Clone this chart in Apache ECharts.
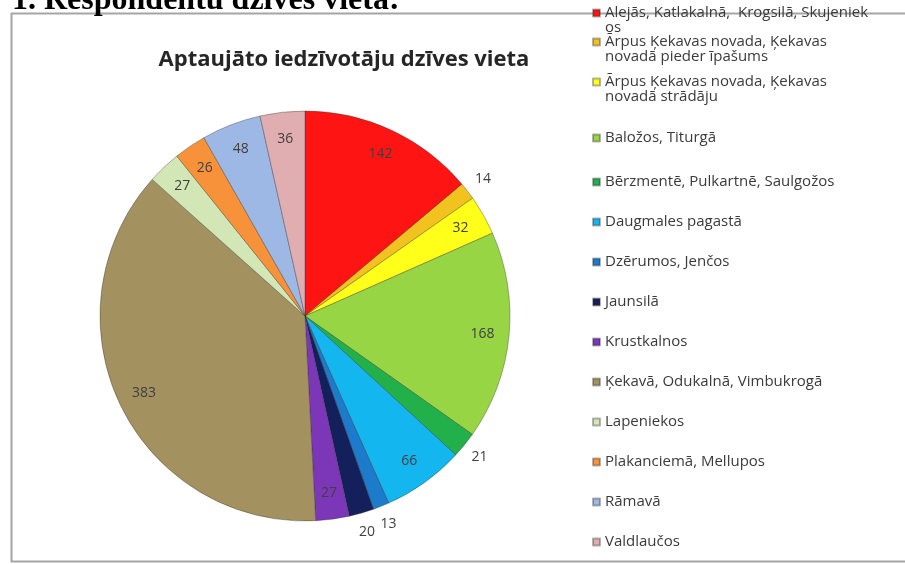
<!DOCTYPE html>
<html>
<head>
<meta charset="utf-8">
<script src="https://cdn.jsdelivr.net/npm/echarts@6/dist/echarts.min.js"></script>
<style>
  html, body { margin: 0; padding: 0; background: #fff; }
  #chart { width: 905px; height: 564px; }
</style>
</head>
<body>
<div id="chart"></div>
<script>
// dzīves vietas (kategorijas) un respondentu skaits
var categories = [
  'Alejās, Katlakalnā,  Krogsilā, Skujenieks',
  'Ārpus Ķekavas novada, Ķekavas novadā pieder īpašums',
  'Ārpus Ķekavas novada, Ķekavas novadā strādāju',
  'Baložos, Titurgā',
  'Bērzmentē, Pulkartnē, Saulgožos',
  'Daugmales pagastā',
  'Dzērumos, Jenčos',
  'Jaunsilā',
  'Krustkalnos',
  'Ķekavā, Odukalnā, Vimbukrogā',
  'Lapeniekos',
  'Plakanciemā, Mellupos',
  'Rāmavā',
  'Valdlaučos'
];
var values = [142, 14, 32, 168, 21, 66, 13, 20, 27, 383, 27, 26, 48, 36];
var colors = [
  '#ff1414', '#f2c21e', '#ffff1a', '#98d544', '#22b04a', '#14b6f0', '#1c7ccb',
  '#13205c', '#7c36b8', '#a3915f', '#d2e7b5', '#f7923a', '#9db8e4', '#e0aeb0'
];
// legendā teksts lauzts kā Excel oriģinālā
var legendLabels = [
  'Alejās, Katlakalnā,  Krogsilā, Skujeniek\nos',
  'Ārpus Ķekavas novada, Ķekavas\nnovadā pieder īpašums',
  'Ārpus Ķekavas novada, Ķekavas\nnovadā strādāju',
  'Baložos, Titurgā',
  'Bērzmentē, Pulkartnē, Saulgožos',
  'Daugmales pagastā',
  'Dzērumos, Jenčos',
  'Jaunsilā',
  'Krustkalnos',
  'Ķekavā, Odukalnā, Vimbukrogā',
  'Lapeniekos',
  'Plakanciemā, Mellupos',
  'Rāmavā',
  'Valdlaučos'
];
// legendas rindu (pirmās rindas) vertikālais centrs
var legendRowY = [13, 42, 82, 138, 182, 222, 262, 302, 342, 382, 422, 462, 502, 542];

var chart = echarts.init(document.getElementById('chart'));

var CX = 305, CY = 316, R = 205;
var pieData = [], innerLabels = [], outerLabels = [], legends = [];

function legendText(name) {
  var t = legendLabels[categories.indexOf(name)];
  // divrindu ierakstam ikona pie pirmās rindas: tukša rinda augšā
  return t.indexOf('\n') >= 0 ? ' \n' + t : t;
}

for (var i = 0; i < categories.length; i++) {
  var small = values[i] < 25;
  pieData.push({ name: categories[i], value: values[i], itemStyle: { color: colors[i] } });
  innerLabels.push({ name: categories[i], value: values[i], label: { show: !small } });
  outerLabels.push({ name: categories[i], value: values[i], label: { show: small } });

  var twoLine = legendLabels[i].indexOf('\n') >= 0;
  legends.push({
    orient: 'vertical',
    left: 592,
    top: legendRowY[i] - (twoLine ? 22.5 : 7.5),
    itemWidth: 7,
    itemHeight: 7,
    itemGap: 0,
    padding: 0,
    icon: 'rect',
    selectedMode: false,
    data: [categories[i]],
    textStyle: { fontFamily: 'Open Sans', fontSize: 15, color: '#3a3a3a', lineHeight: 15 },
    formatter: legendText
  });
}

var labelFont = { fontFamily: 'Open Sans', fontSize: 14, color: '#404040' };

var option = {
  animation: false,
  backgroundColor: '#fff',
  title: {
    text: 'Aptaujāto iedzīvotāju dzīves vieta',
    left: 339,
    top: 44,
    textAlign: 'center',
    textStyle: { fontFamily: 'Open Sans', fontWeight: 'bold', fontSize: 22, color: '#262626' }
  },
  legend: legends,
  graphic: [{
    type: 'rect',
    shape: { x: 11.5, y: 13.5, width: 905, height: 548 },
    style: { fill: 'none', stroke: '#a5a5a5', lineWidth: 2 },
    z: -1
  }, {
    type: 'text',
    left: 12,
    top: -15,
    style: { text: '1. Respondentu dzīves vieta:', font: 'bold 32px "Liberation Serif"', fill: '#000' }
  }],
  series: [{
    type: 'pie',
    center: [CX, CY],
    radius: R,
    startAngle: 90,
    silent: true,
    label: { show: false },
    labelLine: { show: false },
    itemStyle: { borderColor: 'rgba(40,40,40,0.35)', borderWidth: 1 },
    data: pieData
  }, {
    // vērtības iekšpusē (lielās daļas)
    type: 'pie',
    center: [CX, CY],
    radius: [146, R],
    startAngle: 90,
    silent: true,
    itemStyle: { color: 'rgba(0,0,0,0)' },
    label: Object.assign({ show: true, position: 'inside', formatter: '{c}' }, labelFont),
    labelLine: { show: false },
    data: innerLabels
  }, {
    // vērtības ārpusē (mazās daļas)
    type: 'pie',
    center: [CX, CY],
    radius: [R, 238],
    startAngle: 90,
    silent: true,
    itemStyle: { color: 'rgba(0,0,0,0)' },
    label: Object.assign({ show: true, position: 'inside', formatter: '{c}' }, labelFont),
    labelLine: { show: false },
    data: outerLabels
  }]
};
chart.setOption(option);
</script>
</body>
</html>
